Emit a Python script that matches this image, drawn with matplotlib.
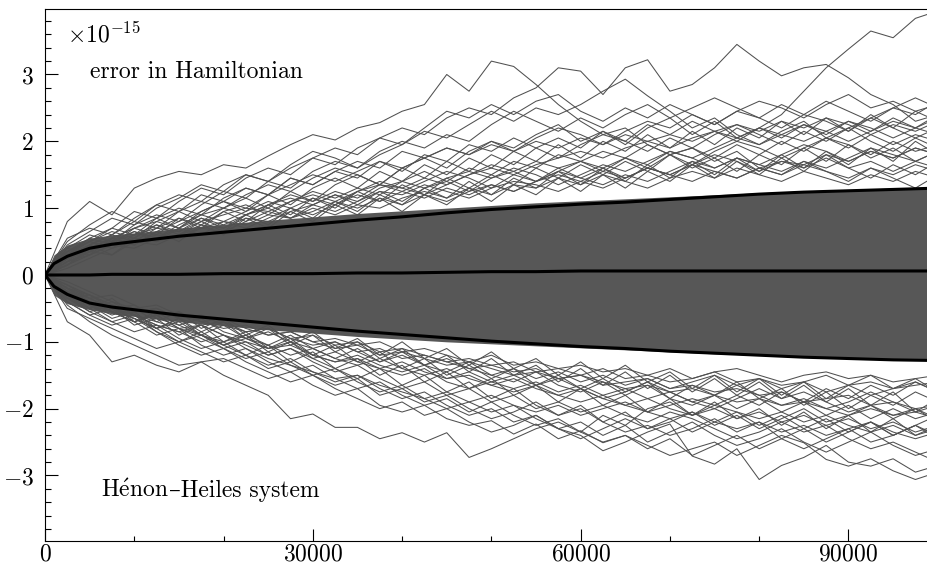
import numpy as np
import matplotlib
matplotlib.use("Agg")
import matplotlib.pyplot as plt

plt.rcParams['mathtext.fontset'] = 'cm'
plt.rcParams['font.family'] = ['cmr10', 'DejaVu Serif']
plt.rcParams['axes.formatter.use_mathtext'] = True

# time steps of the sampled runs (every 2500 steps)
steps = np.arange(0, 100001, 2500)

# runs that wander far above zero (x1e-15)
upper_runs = [
    [0, 0.8, 1.1, 0.9, 1.3, 1.45, 1.55, 1.5, 1.65, 1.6, 1.78, 1.95, 2.1, 2.02, 2.2, 2.28, 2.45, 2.55, 3.0, 2.75,
     3.2, 3.12, 2.85, 2.55, 2.3, 2.1, 2.2, 1.95, 1.8, 1.9, 1.7, 1.85, 1.6, 1.5, 1.7, 1.55, 1.4, 1.6, 1.45, 1.3, 1.5],
    [0, 0.5, 0.75, 0.95, 0.8, 1.05, 1.2, 1.1, 1.35, 1.5, 1.4, 1.6, 1.75, 1.9, 1.8, 2.05, 2.2, 2.1, 2.35, 2.5,
     2.4, 2.65, 2.8, 3.1, 3.05, 2.7, 3.1, 3.22, 2.75, 2.85, 3.1, 3.45, 3.2, 2.98, 3.1, 3.15, 2.95, 2.7, 2.55, 2.3, 2.4],
    [0, 0.3, 0.55, 0.7, 0.6, 0.85, 1.0, 0.9, 1.15, 1.3, 1.2, 1.45, 1.35, 1.55, 1.7, 1.6, 1.85, 1.75, 1.6, 1.85,
     2.0, 1.9, 2.1, 2.25, 2.0, 2.15, 1.95, 2.2, 2.35, 2.1, 2.3, 2.05, 2.2, 2.4, 2.75, 3.1, 3.38, 3.65, 3.55, 3.84, 3.95],
    [0, 0.4, 0.6, 0.5, 0.75, 0.9, 0.8, 1.05, 1.25, 1.15, 1.4, 1.3, 1.55, 1.7, 1.6, 1.8, 1.95, 2.15, 2.05, 2.25,
     2.45, 2.3, 2.5, 2.4, 2.55, 2.75, 2.93, 2.68, 2.45, 2.2, 2.35, 2.1, 1.95, 2.15, 2.3, 2.05, 2.2, 2.0, 1.85, 2.05, 1.9],
    [0, 0.35, 0.5, 0.7, 0.95, 0.85, 1.1, 1.3, 1.2, 1.45, 1.6, 1.5, 1.75, 1.65, 1.9, 2.05, 1.95, 2.2, 2.45, 2.35,
     2.55, 2.4, 2.6, 2.7, 2.45, 2.3, 2.5, 2.35, 2.55, 2.4, 2.25, 2.45, 2.6, 2.5, 2.35, 2.55, 2.7, 2.5, 2.6, 2.45, 2.55],
    [0, 0.45, 0.65, 0.85, 0.75, 1.0, 1.15, 1.35, 1.25, 1.5, 1.4, 1.65, 1.85, 1.75, 1.6, 1.85, 2.0, 1.9, 2.1, 2.0,
     2.25, 2.45, 2.3, 2.15, 2.35, 2.2, 2.4, 2.55, 2.35, 2.5, 2.65, 2.5, 2.35, 2.55, 2.4, 2.6, 2.45, 2.3, 2.5, 2.65, 2.5],
    [0, 0.25, 0.45, 0.6, 0.8, 0.7, 0.95, 1.1, 1.0, 1.2, 1.35, 1.25, 1.45, 1.6, 1.5, 1.35, 1.6, 1.75, 1.9, 1.8,
     2.0, 1.85, 2.05, 2.2, 2.1, 1.95, 2.15, 2.3, 2.2, 2.4, 2.25, 2.45, 2.35, 2.2, 2.4, 2.3, 2.15, 2.35, 2.5, 2.4, 2.6],
    [0, 0.55, 0.7, 0.6, 0.85, 1.05, 0.95, 1.2, 1.1, 1.3, 1.2, 1.45, 1.35, 1.55, 1.45, 1.7, 1.55, 1.8, 1.7, 1.95,
     1.85, 2.05, 1.9, 1.75, 1.95, 2.1, 2.0, 1.85, 2.05, 1.9, 2.1, 2.25, 2.1, 1.95, 2.15, 2.0, 2.2, 2.35, 2.2, 2.05, 2.2],
]

# runs that wander far below zero
lower_runs = [
    [0, -0.45, -0.7, -0.9, -1.05, -1.2, -1.35, -1.3, -1.5, -1.65, -1.8, -2.15, -2.08, -2.28, -2.28, -2.45, -2.36, -2.5, -2.36, -2.73,
     -2.6, -2.45, -2.3, -2.2, -2.35, -2.1, -2.25, -2.0, -1.9, -2.1, -1.95, -1.8, -1.95, -1.75, -1.9, -1.7, -1.85, -1.65, -1.8, -1.6, -1.75],
    [0, -0.7, -0.9, -1.3, -1.2, -1.35, -1.45, -1.3, -1.25, -1.4, -1.55, -1.45, -1.65, -1.8, -1.7, -1.95, -2.05, -1.95, -2.15, -2.25,
     -2.18, -2.38, -2.23, -2.45, -2.33, -2.51, -2.4, -2.6, -2.45, -2.7, -2.55, -2.4, -2.6, -2.45, -2.3, -2.5, -2.35, -2.2, -2.4, -2.25, -2.1],
    [0, -0.3, -0.5, -0.7, -0.85, -0.75, -0.95, -1.1, -1.0, -1.2, -1.35, -1.25, -1.45, -1.6, -1.5, -1.7, -1.85, -1.75, -1.95, -2.1,
     -2.0, -2.2, -2.1, -2.3, -2.4, -2.63, -2.5, -2.35, -2.23, -2.71, -2.83, -2.6, -3.06, -2.85, -2.73, -2.55, -2.8, -2.86, -2.75, -2.95, -2.85],
    [0, -0.35, -0.55, -0.45, -0.7, -0.9, -0.8, -1.05, -1.2, -1.1, -1.3, -1.45, -1.35, -1.55, -1.7, -1.6, -1.8, -1.95, -1.85, -2.05,
     -1.9, -2.1, -2.25, -2.15, -2.35, -2.5, -2.4, -2.55, -2.7, -2.6, -2.5, -2.7, -2.55, -2.4, -2.51, -2.76, -2.86, -2.75, -2.93, -3.06, -2.95],
    [0, -0.25, -0.45, -0.65, -0.55, -0.8, -1.0, -0.9, -1.1, -1.25, -1.15, -1.35, -1.5, -1.4, -1.6, -1.75, -1.65, -1.85, -2.0, -1.9,
     -2.05, -1.95, -2.15, -2.3, -2.2, -2.4, -2.25, -2.5, -2.35, -2.2, -2.4, -2.55, -2.45, -2.3, -2.5, -2.65, -2.5, -2.35, -2.55, -2.7, -2.6],
    [0, -0.5, -0.65, -0.8, -0.95, -1.1, -1.0, -1.15, -1.3, -1.2, -1.4, -1.3, -1.5, -1.65, -1.55, -1.8, -1.7, -1.9, -1.8, -2.0,
     -2.15, -2.05, -1.9, -2.1, -2.0, -2.2, -2.35, -2.25, -2.4, -2.3, -2.15, -2.35, -2.2, -2.45, -2.6, -2.45, -2.3, -2.5, -2.4, -2.25, -2.4],
    [0, -0.4, -0.6, -0.75, -0.65, -0.85, -1.05, -1.2, -1.1, -1.3, -1.45, -1.6, -1.5, -1.7, -1.85, -2.0, -1.9, -2.1, -2.0, -2.2,
     -2.35, -2.25, -2.1, -2.3, -2.45, -2.3, -2.15, -2.3, -2.2, -2.05, -2.25, -2.1, -2.3, -2.15, -2.0, -2.2, -2.1, -1.95, -2.15, -2.0, -2.2],
    [0, -0.2, -0.4, -0.55, -0.7, -0.6, -0.8, -0.95, -1.1, -1.0, -1.2, -1.1, -1.3, -1.45, -1.35, -1.55, -1.7, -1.6, -1.8, -1.7,
     -1.9, -1.8, -2.0, -1.9, -2.05, -1.95, -2.1, -2.2, -2.05, -2.15, -2.3, -2.45, -2.35, -2.2, -2.35, -2.25, -2.45, -2.6, -2.5, -2.65, -2.8],
]

# runs between the dense core and the outliers
middle_runs = [
    [0, 0.3, 0.45, 0.6, 0.5, 0.7, 0.85, 0.75, 0.95, 1.05, 0.9, 1.1, 1.25, 1.15, 1.3, 1.2, 1.4, 1.55, 1.4, 1.6,
     1.5, 1.7, 1.6, 1.8, 1.7, 1.85, 1.75, 1.95, 1.8, 1.65, 1.85, 2.0, 1.9, 1.75, 1.9, 2.05, 1.95, 1.8, 2.0, 1.85, 1.95],
    [0, 0.2, 0.35, 0.5, 0.65, 0.55, 0.75, 0.9, 0.8, 0.95, 1.1, 1.0, 1.15, 1.05, 1.25, 1.4, 1.3, 1.45, 1.35, 1.5,
     1.65, 1.55, 1.7, 1.6, 1.45, 1.6, 1.75, 1.65, 1.85, 1.75, 1.6, 1.75, 1.65, 1.8, 1.95, 1.85, 1.7, 1.85, 1.75, 1.9, 1.8],
    [0, 0.35, 0.5, 0.4, 0.6, 0.75, 0.65, 0.85, 0.75, 0.9, 1.05, 1.2, 1.1, 1.25, 1.15, 1.35, 1.25, 1.4, 1.55, 1.45,
     1.3, 1.5, 1.4, 1.55, 1.7, 1.6, 1.45, 1.6, 1.5, 1.65, 1.8, 1.7, 1.55, 1.7, 1.6, 1.75, 1.6, 1.7, 1.55, 1.7, 1.6],
    [0, 0.15, 0.3, 0.45, 0.4, 0.55, 0.7, 0.6, 0.8, 0.7, 0.85, 1.0, 0.9, 1.05, 1.2, 1.1, 1.25, 1.15, 1.3, 1.2,
     1.35, 1.25, 1.4, 1.5, 1.4, 1.55, 1.45, 1.6, 1.5, 1.4, 1.55, 1.45, 1.6, 1.5, 1.65, 1.55, 1.45, 1.6, 1.5, 1.65, 1.55],
    [0, 0.25, 0.4, 0.55, 0.7, 0.8, 0.7, 0.9, 1.0, 0.9, 1.05, 1.15, 1.05, 1.2, 1.1, 1.3, 1.4, 1.3, 1.45, 1.55,
     1.45, 1.6, 1.5, 1.35, 1.5, 1.65, 1.55, 1.7, 1.85, 1.75, 1.9, 2.05, 1.95, 2.1, 2.0, 2.15, 2.3, 2.2, 2.05, 2.2, 2.1],
    [0, 0.1, 0.25, 0.4, 0.5, 0.45, 0.6, 0.7, 0.65, 0.8, 0.95, 0.85, 1.0, 0.9, 1.05, 1.0, 1.15, 1.25, 1.15, 1.3,
     1.2, 1.35, 1.3, 1.45, 1.35, 1.5, 1.4, 1.3, 1.45, 1.55, 1.45, 1.6, 1.5, 1.4, 1.55, 1.45, 1.35, 1.5, 1.4, 1.55, 1.45],
    [0, 0.3, 0.4, 0.55, 0.45, 0.65, 0.8, 0.95, 1.1, 1.0, 1.2, 1.35, 1.5, 1.4, 1.55, 1.7, 1.6, 1.75, 1.9, 1.8,
     1.95, 1.85, 2.0, 1.9, 2.05, 1.95, 2.1, 2.0, 1.9, 2.05, 2.15, 2.05, 2.2, 2.1, 2.25, 2.15, 2.0, 2.15, 2.3, 2.2, 2.35],
    [0, 0.2, 0.3, 0.45, 0.55, 0.5, 0.6, 0.75, 0.7, 0.85, 0.8, 0.95, 1.05, 0.95, 1.1, 1.25, 1.2, 1.35, 1.25, 1.15,
     1.3, 1.4, 1.35, 1.25, 1.4, 1.3, 1.45, 1.6, 1.5, 1.65, 1.55, 1.45, 1.6, 1.7, 1.65, 1.8, 1.7, 1.85, 1.75, 1.9, 1.8],
    [0, 0.15, 0.35, 0.5, 0.6, 0.7, 0.65, 0.8, 0.9, 1.0, 0.95, 1.1, 1.2, 1.1, 1.25, 1.35, 1.3, 1.2, 1.35, 1.5,
     1.6, 1.5, 1.65, 1.75, 1.85, 1.75, 1.9, 2.0, 2.1, 2.0, 2.15, 2.25, 2.15, 2.3, 2.2, 2.35, 2.25, 2.1, 2.25, 2.15, 2.3],
    [0, 0.25, 0.35, 0.3, 0.5, 0.6, 0.55, 0.7, 0.8, 0.75, 0.9, 0.85, 0.95, 1.1, 1.0, 1.15, 1.05, 1.2, 1.1, 1.25,
     1.35, 1.25, 1.4, 1.55, 1.45, 1.35, 1.5, 1.4, 1.55, 1.7, 1.6, 1.75, 1.65, 1.55, 1.7, 1.6, 1.75, 1.9, 1.8, 1.7, 1.85],
    [0, 0.35, 0.55, 0.45, 0.7, 0.6, 0.85, 0.7, 0.95, 0.8, 1.05, 0.9, 1.15, 1.0, 1.25, 1.1, 1.35, 1.2, 1.45, 1.3,
     1.5, 1.35, 1.6, 1.45, 1.65, 1.5, 1.7, 1.55, 1.8, 1.6, 1.75, 1.55, 1.8, 1.65, 1.9, 1.7, 1.95, 1.75, 1.9, 1.7, 1.85],
    [0, 0.2, 0.45, 0.3, 0.55, 0.75, 0.6, 0.8, 0.65, 0.9, 0.75, 1.0, 0.85, 1.1, 0.95, 1.2, 1.05, 1.3, 1.15, 1.4,
     1.2, 1.45, 1.3, 1.55, 1.35, 1.6, 1.4, 1.65, 1.45, 1.7, 1.5, 1.75, 1.55, 1.8, 1.6, 1.85, 1.65, 1.9, 1.7, 2.0, 1.8],
    [0, 0.4, 0.3, 0.55, 0.7, 0.85, 0.7, 0.95, 1.1, 0.95, 1.2, 1.05, 1.3, 1.45, 1.3, 1.55, 1.4, 1.65, 1.5, 1.75,
     1.6, 1.85, 1.7, 1.95, 1.75, 2.0, 1.85, 2.1, 1.9, 2.15, 1.95, 2.2, 2.05, 2.3, 2.1, 2.35, 2.15, 2.4, 2.2, 2.45, 2.3],
    [0, 0.15, 0.4, 0.55, 0.45, 0.65, 0.5, 0.75, 0.6, 0.85, 0.7, 0.95, 0.8, 1.05, 0.9, 1.15, 0.95, 1.2, 1.05, 1.3,
     1.1, 1.35, 1.2, 1.45, 1.25, 1.5, 1.3, 1.55, 1.4, 1.65, 1.45, 1.7, 1.5, 1.75, 1.55, 1.8, 1.6, 1.45, 1.65, 1.5, 1.7],
    [0, 0.3, 0.5, 0.65, 0.55, 0.8, 0.95, 0.8, 1.0, 1.15, 1.0, 1.25, 1.1, 1.35, 1.5, 1.35, 1.6, 1.45, 1.7, 1.55,
     1.8, 1.65, 1.9, 2.05, 1.9, 2.15, 2.0, 2.25, 2.1, 2.3, 2.15, 2.0, 2.2, 2.05, 2.25, 2.1, 2.3, 2.15, 2.35, 2.2, 2.4],
    [0, 0.25, 0.35, 0.5, 0.65, 0.5, 0.7, 0.85, 0.7, 0.9, 1.0, 0.85, 1.05, 1.2, 1.05, 1.25, 1.1, 1.3, 1.4, 1.25,
     1.45, 1.55, 1.4, 1.6, 1.7, 1.55, 1.75, 1.6, 1.8, 1.9, 1.75, 1.95, 1.8, 2.0, 1.85, 2.05, 1.9, 2.1, 1.95, 2.1, 2.0],
    [0, -0.3, -0.45, -0.55, -0.7, -0.6, -0.8, -0.9, -1.05, -0.95, -1.1, -1.0, -1.2, -1.3, -1.2, -1.35, -1.45, -1.35, -1.55, -1.45,
     -1.6, -1.7, -1.6, -1.75, -1.65, -1.8, -1.7, -1.85, -1.75, -1.9, -1.8, -1.65, -1.8, -1.95, -1.85, -2.0, -1.9, -1.75, -1.9, -2.05, -1.95],
    [0, -0.2, -0.35, -0.5, -0.45, -0.65, -0.75, -0.65, -0.85, -0.95, -0.85, -1.0, -1.1, -1.0, -1.15, -1.3, -1.2, -1.35, -1.25, -1.4,
     -1.5, -1.4, -1.55, -1.45, -1.6, -1.5, -1.65, -1.55, -1.7, -1.6, -1.5, -1.65, -1.55, -1.7, -1.6, -1.75, -1.65, -1.8, -1.7, -1.6, -1.75],
    [0, -0.35, -0.5, -0.4, -0.6, -0.75, -0.85, -0.75, -0.9, -1.05, -1.2, -1.1, -1.25, -1.15, -1.3, -1.4, -1.5, -1.4, -1.6, -1.7,
     -1.6, -1.5, -1.65, -1.55, -1.7, -1.85, -1.75, -1.6, -1.75, -1.9, -2.0, -1.85, -1.7, -1.85, -1.75, -1.9, -2.05, -1.95, -2.1, -2.0, -2.15],
    [0, -0.15, -0.3, -0.45, -0.55, -0.5, -0.65, -0.6, -0.75, -0.85, -0.8, -0.95, -0.9, -1.05, -1.0, -1.15, -1.1, -1.2, -1.3, -1.25,
     -1.35, -1.3, -1.45, -1.4, -1.5, -1.4, -1.55, -1.5, -1.6, -1.55, -1.45, -1.6, -1.55, -1.65, -1.6, -1.5, -1.65, -1.6, -1.7, -1.65, -1.6],
    [0, -0.25, -0.4, -0.55, -0.65, -0.8, -0.7, -0.9, -1.0, -0.9, -1.05, -1.2, -1.1, -1.25, -1.35, -1.25, -1.4, -1.5, -1.4, -1.55,
     -1.65, -1.55, -1.7, -1.8, -1.7, -1.85, -1.95, -1.85, -2.0, -2.1, -2.0, -2.15, -2.05, -2.2, -2.1, -2.25, -2.15, -2.3, -2.2, -2.35, -2.25],
    [0, -0.1, -0.25, -0.4, -0.5, -0.45, -0.6, -0.7, -0.65, -0.8, -0.9, -0.85, -1.0, -0.95, -1.05, -1.0, -1.15, -1.1, -1.2, -1.3,
     -1.2, -1.35, -1.3, -1.4, -1.35, -1.45, -1.4, -1.5, -1.4, -1.55, -1.45, -1.4, -1.5, -1.6, -1.5, -1.45, -1.55, -1.5, -1.6, -1.55, -1.5],
    [0, -0.3, -0.4, -0.5, -0.6, -0.75, -0.85, -1.0, -0.9, -1.1, -1.25, -1.35, -1.45, -1.55, -1.5, -1.65, -1.75, -1.85, -1.75, -1.9,
     -1.8, -1.95, -2.05, -1.95, -2.1, -2.0, -1.9, -2.05, -2.15, -2.05, -2.2, -2.3, -2.2, -2.35, -2.25, -2.4, -2.3, -2.2, -2.35, -2.45, -2.35],
    [0, -0.2, -0.3, -0.45, -0.55, -0.5, -0.65, -0.75, -0.7, -0.85, -0.8, -0.95, -1.05, -1.0, -1.15, -1.1, -1.25, -1.2, -1.3, -1.4,
     -1.35, -1.45, -1.4, -1.55, -1.5, -1.65, -1.6, -1.55, -1.7, -1.65, -1.75, -1.7, -1.8, -1.75, -1.9, -1.85, -1.8, -1.95, -1.9, -2.0, -1.95],
    [0, -0.15, -0.35, -0.5, -0.6, -0.7, -0.8, -0.75, -0.9, -1.0, -1.1, -1.05, -1.2, -1.3, -1.25, -1.4, -1.3, -1.45, -1.55, -1.5,
     -1.65, -1.75, -1.65, -1.8, -1.9, -1.8, -1.95, -2.05, -1.95, -1.85, -1.95, -2.05, -2.15, -2.05, -2.2, -2.1, -2.25, -2.35, -2.25, -2.4, -2.3],
    [0, -0.25, -0.35, -0.3, -0.45, -0.6, -0.55, -0.7, -0.8, -0.75, -0.9, -0.85, -1.0, -1.1, -1.05, -1.2, -1.15, -1.25, -1.35, -1.3,
     -1.4, -1.5, -1.45, -1.55, -1.5, -1.6, -1.7, -1.65, -1.75, -1.7, -1.8, -1.9, -1.85, -1.95, -1.9, -2.0, -2.1, -2.0, -2.1, -2.05, -2.15],
    [0, -0.4, -0.6, -0.5, -0.75, -0.65, -0.9, -0.75, -1.0, -0.85, -1.1, -0.95, -1.2, -1.05, -1.3, -1.15, -1.4, -1.25, -1.5, -1.35,
     -1.55, -1.4, -1.65, -1.5, -1.7, -1.55, -1.75, -1.6, -1.85, -1.65, -1.8, -1.6, -1.85, -1.7, -1.95, -1.75, -2.0, -1.8, -1.95, -1.75, -1.9],
    [0, -0.25, -0.5, -0.35, -0.6, -0.8, -0.65, -0.85, -0.7, -0.95, -0.8, -1.05, -0.9, -1.15, -1.0, -1.25, -1.1, -1.35, -1.2, -1.45,
     -1.25, -1.5, -1.35, -1.6, -1.4, -1.65, -1.45, -1.7, -1.5, -1.75, -1.55, -1.8, -1.6, -1.85, -1.65, -1.9, -1.7, -1.95, -1.75, -2.05, -1.85],
    [0, -0.35, -0.3, -0.5, -0.65, -0.8, -0.65, -0.9, -1.05, -0.9, -1.15, -1.0, -1.25, -1.4, -1.25, -1.5, -1.35, -1.6, -1.45, -1.7,
     -1.55, -1.8, -1.65, -1.9, -1.7, -1.95, -1.8, -2.05, -1.85, -2.1, -1.9, -2.15, -2.0, -2.25, -2.05, -2.3, -2.1, -2.35, -2.15, -2.4, -2.25],
    [0, -0.2, -0.45, -0.6, -0.5, -0.7, -0.55, -0.8, -0.65, -0.9, -0.75, -1.0, -0.85, -1.1, -0.95, -1.2, -1.0, -1.25, -1.1, -1.35,
     -1.15, -1.4, -1.25, -1.5, -1.3, -1.55, -1.35, -1.6, -1.45, -1.7, -1.5, -1.75, -1.55, -1.8, -1.6, -1.85, -1.65, -1.5, -1.7, -1.55, -1.75],
    [0, -0.3, -0.55, -0.7, -0.6, -0.85, -1.0, -0.85, -1.05, -1.2, -1.05, -1.3, -1.15, -1.4, -1.55, -1.4, -1.65, -1.5, -1.75, -1.6,
     -1.85, -1.7, -1.95, -2.1, -1.95, -2.2, -2.05, -2.3, -2.15, -2.35, -2.2, -2.05, -2.25, -2.1, -2.3, -2.15, -2.35, -2.2, -2.4, -2.25, -2.45],
    [0, -0.3, -0.4, -0.55, -0.7, -0.55, -0.75, -0.9, -0.75, -0.95, -1.05, -0.9, -1.1, -1.25, -1.1, -1.3, -1.15, -1.35, -1.45, -1.3,
     -1.5, -1.6, -1.45, -1.65, -1.75, -1.6, -1.8, -1.65, -1.85, -1.95, -1.8, -2.0, -1.85, -2.05, -1.9, -2.1, -1.95, -2.15, -2.0, -2.15, -2.05],
]

# dense core of the ensemble and the summary curves
curve_steps = [0, 1000, 2500, 5000, 7500, 10000, 15000, 20000, 25000, 30000, 35000, 40000, 45000, 50000,
               55000, 60000, 65000, 70000, 75000, 80000, 85000, 90000, 95000, 100000]
core_hi = [0, 0.3, 0.45, 0.55, 0.6, 0.63, 0.7, 0.76, 0.82, 0.87, 0.92, 0.96, 1.0, 1.04, 1.08, 1.11, 1.14, 1.17,
           1.2, 1.23, 1.26, 1.28, 1.3, 1.32]
core_lo = [0, -0.3, -0.43, -0.52, -0.58, -0.62, -0.7, -0.76, -0.82, -0.87, -0.92, -0.96, -1.0, -1.03, -1.06, -1.09,
           -1.12, -1.15, -1.18, -1.2, -1.22, -1.24, -1.26, -1.27]
mean_err = [0, 0.0, 0.0, 0.0, 0.01, 0.01, 0.01, 0.02, 0.02, 0.02, 0.03, 0.03, 0.04, 0.05, 0.05, 0.06, 0.06, 0.06,
            0.06, 0.06, 0.06, 0.06, 0.06, 0.06]
std_hi = [0, 0.17, 0.28, 0.4, 0.46, 0.5, 0.58, 0.64, 0.7, 0.76, 0.82, 0.87, 0.93, 0.98, 1.02, 1.06, 1.09, 1.13,
          1.17, 1.21, 1.24, 1.26, 1.28, 1.3]
std_lo = [0, -0.17, -0.29, -0.42, -0.48, -0.52, -0.6, -0.66, -0.72, -0.78, -0.84, -0.89, -0.94, -0.99, -1.03, -1.07,
          -1.1, -1.14, -1.17, -1.2, -1.23, -1.25, -1.27, -1.28]

gray = '#505050'

fig = plt.figure(figsize=(9.28, 5.65), dpi=100)
ax = fig.add_axes([0.0485, 0.0425, 0.962, 0.9416])

ax.fill_between(curve_steps, core_lo, core_hi, color='#575757', lw=0, zorder=1)
for run in upper_runs + lower_runs + middle_runs:
    ax.plot(steps, run, color=gray, lw=0.75, zorder=2)

ax.plot(curve_steps, mean_err, color='black', lw=2.2, zorder=3)
ax.plot(curve_steps, std_hi, color='black', lw=2.2, zorder=3)
ax.plot(curve_steps, std_lo, color='black', lw=2.2, zorder=3)

ax.set_xlim(0, 100000)
ax.set_ylim(-3.98, 3.98)
ax.set_xticks([0, 30000, 60000, 90000])
ax.set_xticklabels([r'$0$', r'$30000$', r'$60000$', r'$90000$'])
ax.set_xticks(np.arange(0, 100001, 10000), minor=True)
ax.set_yticks([-3, -2, -1, 0, 1, 2, 3])
ax.set_yticklabels([r'$-3$', r'$-2$', r'$-1$', r'$0$', r'$1$', r'$2$', r'$3$'])
ax.set_yticks(np.arange(-3.8, 3.81, 0.2), minor=True)

ax.tick_params(axis='both', which='both', direction='in', width=0.8, labelsize=17)
ax.tick_params(axis='y', which='major', length=9.5, pad=8)
ax.tick_params(axis='y', which='minor', length=4.5)
ax.tick_params(axis='x', which='major', length=9, pad=2)
ax.tick_params(axis='x', which='minor', length=3.6)
ax.spines['right'].set_visible(False)
for s in ['top', 'left', 'bottom']:
    ax.spines[s].set_linewidth(0.8)

ax.text(0.0246, 0.951, r'$\times10^{-15}$', transform=ax.transAxes, fontsize=17, va='center', ha='left')
ax.text(0.0504, 0.8816, 'error in Hamiltonian', transform=ax.transAxes, fontsize=17, va='center', ha='left')

# accent via mathtext, the en dash as plain text (cmr10 has it); glue them on one baseline
x0, y0 = 0.0627, 0.0835
t1 = ax.text(x0, y0, r'H$\acute{\mathrm{e}}$non', transform=ax.transAxes, fontsize=17,
             va='baseline', ha='left')
fig.canvas.draw()
w = t1.get_window_extent().width / ax.get_window_extent().width
ax.text(x0 + w, y0, '–Heiles system', transform=ax.transAxes, fontsize=17, va='baseline', ha='left')

fig.savefig('out.png', dpi=100)
